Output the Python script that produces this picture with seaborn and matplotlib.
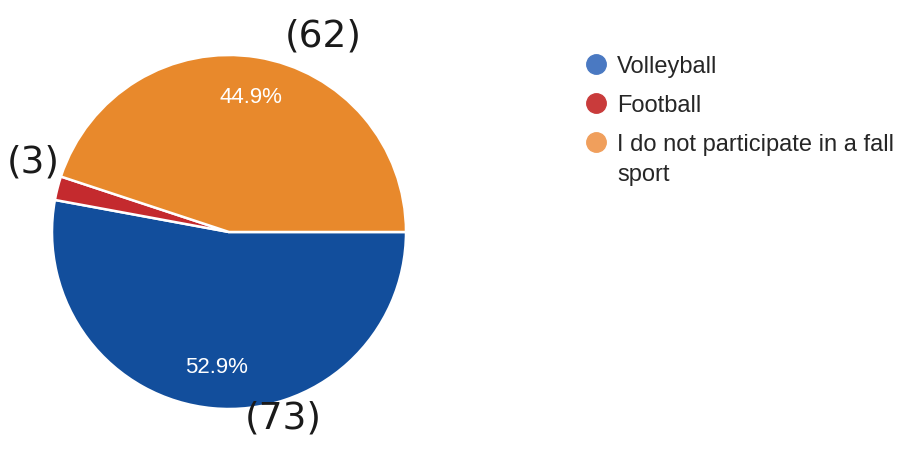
import matplotlib
matplotlib.use("Agg")
import matplotlib.pyplot as plt
import seaborn as sns
from matplotlib.lines import Line2D

# data
sports = ["Volleyball", "Football", "I do not participate in a fall\nsport"]
counts = [73, 3, 62]
pcts = [52.9, 2.2, 44.9]
hand_notes = ["(73)", "(3)", "(62)"]

pie_colors = ["#124e9c", "#c42a2e", "#e8892c"]
legend_colors = ["#4a79c2", "#c93b3b", "#f09f5c"]

sns.set_style("white")
plt.rcParams['font.family'] = ['Liberation Sans', 'DejaVu Sans']

fig = plt.figure(figsize=(8.97, 4.54), dpi=100)

# pie: center ~ (229, 232) px, radius ~177 px
ax = fig.add_axes([52 / 897, 45 / 454, 354 / 897, 354 / 454])


def pct_label(p):
    # small slices get no label, like the original
    return f"{p:.1f}%" if p > 5 else ""


wedges, texts, autotexts = ax.pie(
    counts,
    colors=pie_colors,
    startangle=0,
    counterclock=False,
    autopct=pct_label,
    pctdistance=0.77,
    wedgeprops=dict(edgecolor="white", linewidth=1.8),
    textprops=dict(color="white", fontsize=16),
)
ax.set_xlim(-1, 1)
ax.set_ylim(-1, 1)
ax.set_aspect("equal")
ax.axis("off")

# legend with round markers
handles = [
    Line2D([0], [0], marker="o", linestyle="", markersize=14,
           markerfacecolor=c, markeredgecolor=c)
    for c in legend_colors
]
leg = fig.legend(
    handles, sports,
    loc="upper left",
    bbox_to_anchor=(584 / 897, 1 - 56 / 454),
    frameon=False,
    fontsize=17,
    handlelength=1.0,
    handletextpad=0.4,
    labelspacing=0.72,
    borderpad=0,
    borderaxespad=0,
)
for t in leg.get_texts():
    t.set_linespacing(1.5)
# keep the marker on the first line of the wrapped label
for col in leg._legend_handle_box.get_children():
    for row in col.get_children():
        row.align = "top"

# handwritten counts scribbled on the printout
note_pos = [(283, 418), (33, 162), (323, 37)]
for note, (px, py) in zip(hand_notes, note_pos):
    fig.text(px / 897, 1 - py / 454, note, fontsize=27, color="#1a1a1a",
             ha="center", va="center", family=["DejaVu Sans"])

plt.savefig("out.png", dpi=100)
plt.close()
